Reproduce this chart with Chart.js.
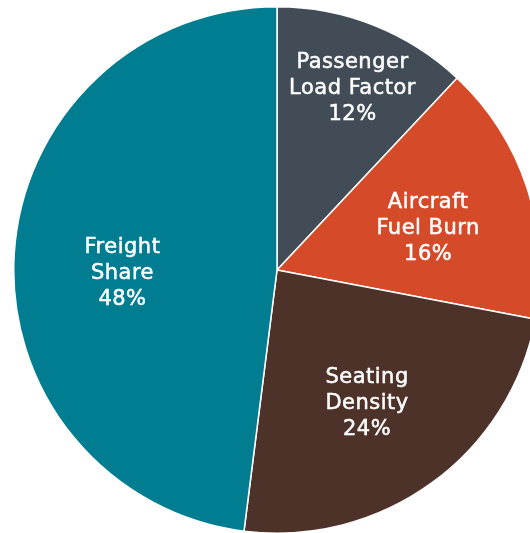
<!DOCTYPE html>
<html lang="en">
<head>
    <meta charset="UTF-8">
    <title>Share of Efficiency Drivers</title>
    <script src="https://cdn.jsdelivr.net/npm/chart.js"></script>
    <style>
        html, body {
            margin: 0;
            padding: 0;
            width: 530px;
            height: 533px;
            overflow: hidden;
            background: #ffffff;
        }

        #chartContainer {
            position: absolute;
            left: 13px;
            top: 6px;
            width: 528px;
            height: 528px;
        }
    </style>
</head>
<body>
    <div id="chartContainer">
        <canvas id="chart"></canvas>
    </div>

    <script>
        // Categories, clockwise from 12 o'clock
        const categories = [
            ['Passenger', 'Load Factor'],
            ['Aircraft', 'Fuel Burn'],
            ['Seating', 'Density'],
            ['Freight', 'Share']
        ];
        const shares = [12, 16, 24, 48];
        const sliceColors = ['#414c56', '#d54b29', '#4d322a', '#017d91'];

        // Label anchor for each slice: distance from centre (fraction of radius)
        // and a small turn (degrees) away from the slice's middle angle
        const labelRadius = [0.756, 0.598, 0.604, 0.587];
        const labelTurn = [0.7, 1.75, 1.5, -4.2];

        // Draws the category name plus its percentage inside each slice
        const sliceLabels = {
            id: 'sliceLabels',
            afterDatasetsDraw(chart) {
                const ctx = chart.ctx;
                const meta = chart.getDatasetMeta(0);
                const size = 21;
                const lh = 26;
                ctx.save();
                ctx.fillStyle = '#ffffff';
                ctx.strokeStyle = '#ffffff';
                ctx.lineWidth = 0.5;  // slightly heavier glyphs
                ctx.font = size + 'px "DejaVu Sans", sans-serif';
                ctx.letterSpacing = '0.5px';
                ctx.textAlign = 'center';
                ctx.textBaseline = 'alphabetic';
                meta.data.forEach((arc, i) => {
                    const p = arc.getProps(['x', 'y', 'startAngle', 'endAngle', 'outerRadius'], true);
                    const mid = (p.startAngle + p.endAngle) / 2 + labelTurn[i] * Math.PI / 180;
                    const r = p.outerRadius * labelRadius[i];
                    const cx = p.x + Math.cos(mid) * r;
                    const cy = p.y + Math.sin(mid) * r;
                    const lines = categories[i].concat(shares[i] + '%');
                    lines.forEach((line, j) => {
                        const capMid = cy + (j - (lines.length - 1) / 2) * lh;
                        const by = capMid + size * 0.365;
                        ctx.fillText(line, cx, by);
                        ctx.strokeText(line, cx, by);
                    });
                });
                ctx.restore();
            }
        };

        new Chart(document.getElementById('chart'), {
            type: 'pie',
            data: {
                labels: categories.map(c => c.join(' ')),
                datasets: [{
                    data: shares,
                    backgroundColor: sliceColors,
                    borderColor: '#ffffff',
                    borderWidth: 1.5
                }]
            },
            options: {
                responsive: true,
                maintainAspectRatio: false,
                animation: false,
                layout: { padding: 0 },
                plugins: {
                    legend: { display: false },
                    tooltip: { enabled: false }
                }
            },
            plugins: [sliceLabels]
        });
    </script>
</body>
</html>
